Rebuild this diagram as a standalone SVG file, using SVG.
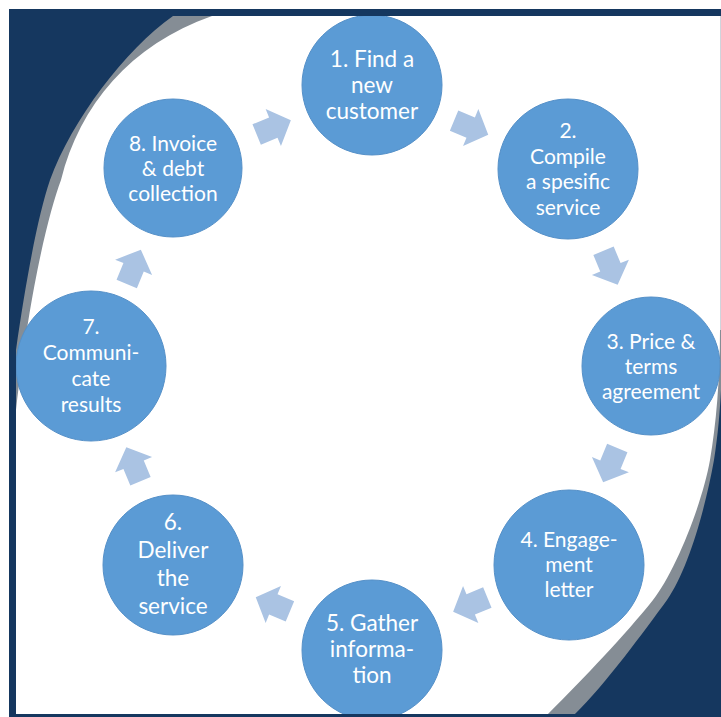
<svg xmlns="http://www.w3.org/2000/svg" width="721" height="717" viewBox="0 0 721 717">
  <style>
    .navy { fill: #15375f; }
    .band { fill: #858d95; }
    .node circle { fill: #5b9bd5; stroke: #5590c8; stroke-width: 1; }
    .node text { fill: #ffffff; font-family: Lato, "Open Sans", sans-serif; font-size: 21px; text-anchor: middle; }
    .node text.big { font-size: 22.5px; }
    .arrow { fill: #aac3e3; }
  </style>
  <defs>
    <!-- block arrow pointing right, centred on the origin -->
    <polygon id="cycleArrow" points="-18,-11 0,-11 0,-20 19,0 0,20 0,11 -18,11"/>
  </defs>

  <!-- page and frame -->
  <rect x="0" y="0" width="721" height="717" fill="#ffffff"/>
  <rect class="navy" x="9" y="9" width="712" height="708"/>
  <rect x="16" y="16" width="704" height="698" fill="#ffffff"/>
  <line x1="720.5" y1="16" x2="720.5" y2="714" stroke="#cfd5dc" stroke-width="1"/>

  <!-- top-left swoosh -->
  <path class="band" d="M16,16 L212,16 C130,45 80,105 61,180 C48,215 30,290 16,410 Z"/>
  <path class="navy" d="M16,16 L173,16 C125,50 72,120 50,180 C38,215 26,280 16,350 Z"/>

  <!-- bottom-right swoosh -->
  <path class="band" d="M548,714 C585,677 625,635 653,600 C675,572 702,505 710,460 C716,425 720,380 720,330 L721,330 L721,717 L548,717 Z"/>
  <path class="navy" d="M575,714 C605,685 645,630 667,600 C688,570 705,510 714,460 C718,435 720,410 721,390 L721,717 L575,717 Z"/>

  <!-- connectors -->
  <g id="connectors">
    <use href="#cycleArrow" class="arrow" transform="translate(470.7,127.6) rotate(22.5)"/>
    <use href="#cycleArrow" class="arrow" transform="translate(610.4,267.3) rotate(67.5)"/>
    <use href="#cycleArrow" class="arrow" transform="translate(610.4,464.7) rotate(112.5)"/>
    <use href="#cycleArrow" class="arrow" transform="translate(470.7,604.4) rotate(157.5)"/>
    <use href="#cycleArrow" class="arrow" transform="translate(273.3,604.4) rotate(202.5)"/>
    <use href="#cycleArrow" class="arrow" transform="translate(133.6,464.7) rotate(247.5)"/>
    <use href="#cycleArrow" class="arrow" transform="translate(133.6,267.3) rotate(292.5)"/>
    <use href="#cycleArrow" class="arrow" transform="translate(273.3,127.6) rotate(337.5)"/>
  </g>

  <!-- steps -->
  <g id="step1" class="node">
    <circle cx="372" cy="85" r="70"/>
    <text class="big" x="372" y="67">1. Find a</text>
    <text class="big" x="372" y="93">new</text>
    <text class="big" x="372" y="119">customer</text>
  </g>
  <g id="step2" class="node">
    <circle cx="568" cy="169" r="70"/>
    <text x="568" y="138">2.</text>
    <text x="568" y="163.5">Compile</text>
    <text x="568" y="189">a spesific</text>
    <text x="568" y="214.5">service</text>
  </g>
  <g id="step3" class="node">
    <circle cx="651" cy="366" r="69"/>
    <text x="651" y="349">3. Price &amp;</text>
    <text x="651" y="374">terms</text>
    <text x="651" y="399">agreement</text>
  </g>
  <g id="step4" class="node">
    <circle cx="569" cy="565" r="75"/>
    <text x="569" y="547">4. Engage-</text>
    <text x="569" y="572">ment</text>
    <text x="569" y="597">letter</text>
  </g>
  <g id="step5" class="node">
    <circle cx="372" cy="650" r="70"/>
    <text class="big" x="372" y="631">5. Gather</text>
    <text class="big" x="372" y="657">informa-</text>
    <text class="big" x="372" y="683">tion</text>
  </g>
  <g id="step6" class="node">
    <circle cx="173" cy="565" r="70"/>
    <text class="big" x="173" y="530">6.</text>
    <text class="big" x="173" y="558">Deliver</text>
    <text class="big" x="173" y="586">the</text>
    <text class="big" x="173" y="614">service</text>
  </g>
  <g id="step7" class="node">
    <circle cx="91" cy="366" r="75"/>
    <text x="91" y="334">7.</text>
    <text x="91" y="360">Communi-</text>
    <text x="91" y="386">cate</text>
    <text x="91" y="412">results</text>
  </g>
  <g id="step8" class="node">
    <circle cx="173" cy="168" r="69"/>
    <text x="173" y="151">8. Invoice</text>
    <text x="173" y="176">&amp; debt</text>
    <text x="173" y="201">collection</text>
  </g>

  <!-- frame edges drawn over the outer steps -->
  <rect class="navy" x="9" y="9" width="712" height="7"/>
  <rect class="navy" x="9" y="9" width="7" height="708"/>
  <rect class="navy" x="9" y="714" width="712" height="3"/>
</svg>
